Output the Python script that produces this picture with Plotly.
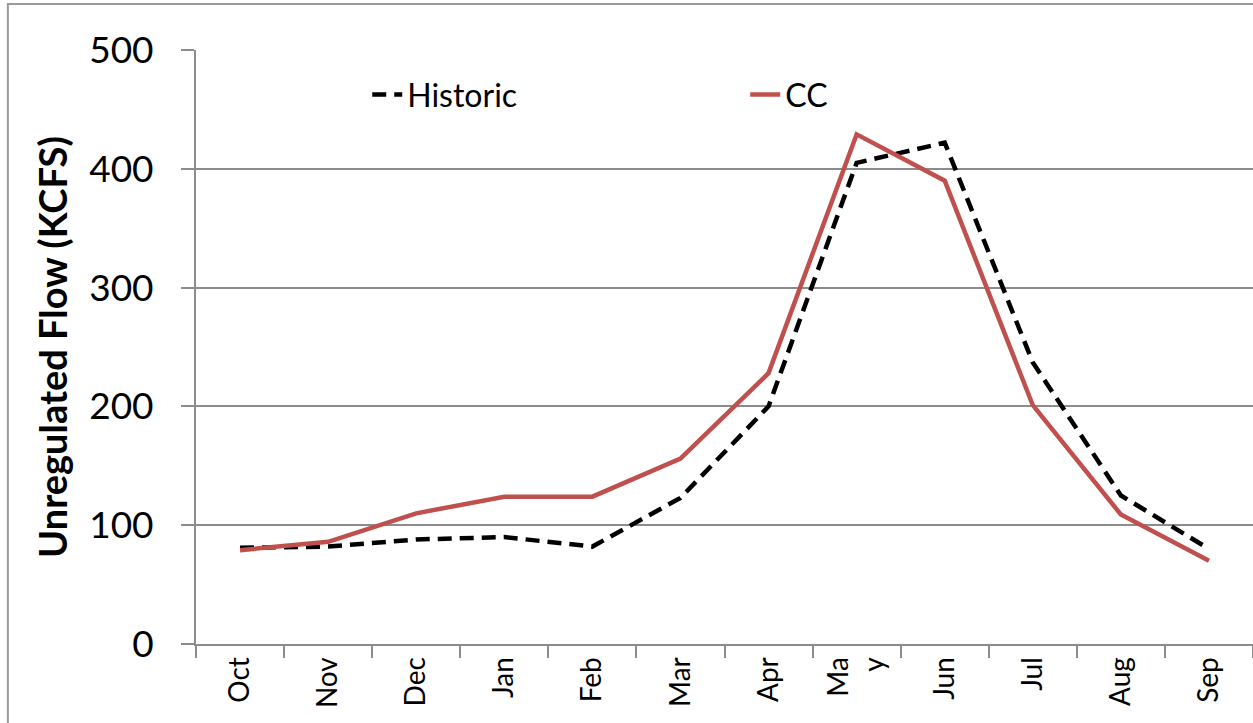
import plotly.graph_objects as go

months = ["Oct", "Nov", "Dec", "Jan", "Feb", "Mar", "Apr", "May", "Jun", "Jul", "Aug", "Sep"]
tick_labels = ["Oct", "Nov", "Dec", "Jan", "Feb", "Mar", "Apr", "Ma<br>y", "Jun", "Jul", "Aug", "Sep"]
historic = [81, 82, 88, 90, 82, 123, 200, 405, 422, 237, 125, 80]
cc = [79, 86, 110, 124, 124, 156, 228, 429, 390, 201, 109, 70]

FONT = "Lato"
GRID = "#8c8c8c"

fig = go.Figure()
fig.add_trace(go.Scatter(x=months, y=historic, mode="lines", name="Historic",
                         line=dict(color="black", width=4.5, dash="14px,8px")))
fig.add_trace(go.Scatter(x=months, y=cc, mode="lines", name="CC",
                         line=dict(color="#C0504D", width=4.5)))

fig.update_layout(
    width=1253, height=723,
    margin=dict(l=196, r=0, t=50, b=79),
    paper_bgcolor="white", plot_bgcolor="white",
    font=dict(family=FONT, color="black"),
    showlegend=True,
    legend=dict(orientation="h", x=0.162, y=0.971, xanchor="left", yanchor="top",
                entrywidth=333, entrywidthmode="pixels",
                font=dict(size=32, family=FONT), bgcolor="rgba(0,0,0,0)"),
    xaxis=dict(
        tickmode="array", tickvals=months, ticktext=tick_labels,
        tickangle=-90, tickfont=dict(size=28, family=FONT),
        showline=True, linecolor=GRID, linewidth=2,
        ticks="outside", tickson="boundaries", ticklen=12, tickcolor=GRID, tickwidth=2,
        showgrid=False, range=[-0.5, 11.5],
    ),
    yaxis=dict(
        range=[0, 500], tickvals=[0, 100, 200, 300, 400, 500],
        tickfont=dict(size=37, family=FONT), ticklabelstandoff=20,
        showline=True, linecolor=GRID, linewidth=2,
        ticks="outside", ticklen=13, tickcolor=GRID, tickwidth=2,
        showgrid=True, gridcolor=GRID, gridwidth=1.5,
        zeroline=False,
        title=dict(text="<b>Unregulated Flow (KCFS)</b>", font=dict(size=38, family=FONT), standoff=10),
    ),
)

fig.add_shape(type="rect", xref="paper", yref="paper",
              x0=-0.178, x1=1.03, y0=-0.2, y1=1.0774,
              line=dict(color="#9a9a9a", width=2), fillcolor="rgba(0,0,0,0)", layer="below")

fig.write_html("out.html", config={"displayModeBar": False},
               post_script="document.body.style.margin='0';")
